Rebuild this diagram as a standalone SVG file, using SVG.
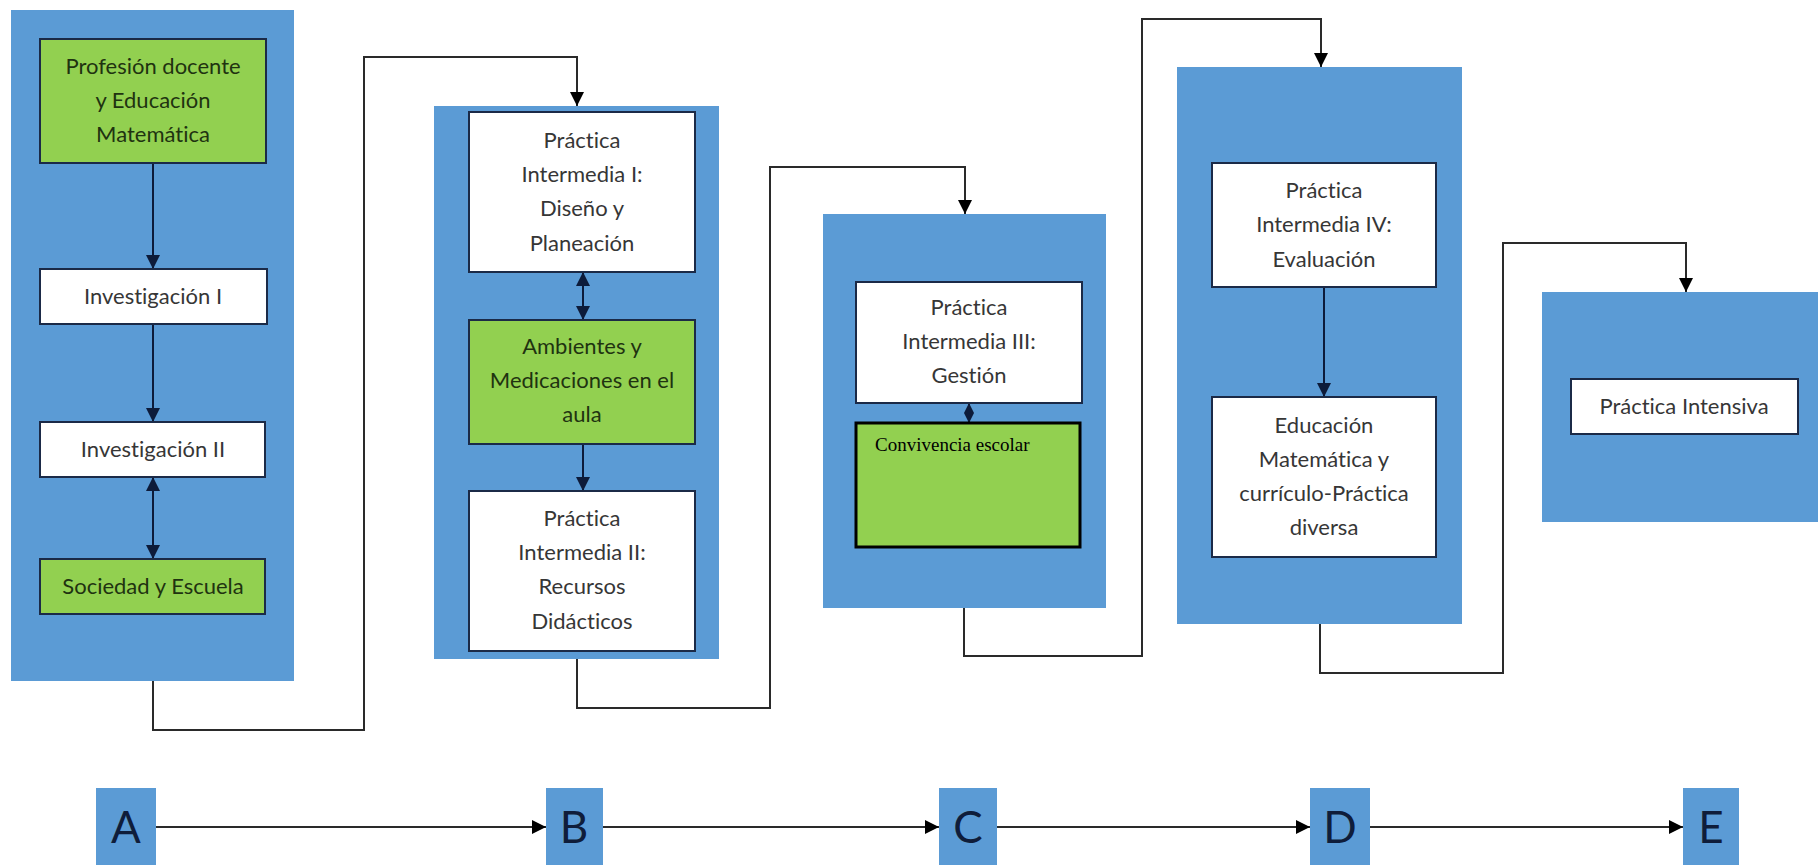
<svg xmlns="http://www.w3.org/2000/svg" width="1818" height="865" viewBox="0 0 1818 865">
<style>
.bg{fill:#5b9bd5}
.wb{fill:#ffffff;stroke:#1b2a47;stroke-width:2}
.gb{fill:#92d050;stroke:#1b2a47;stroke-width:2}
text{font-variant-ligatures:none}
.t{font-family:Lato,"Liberation Sans",sans-serif;font-size:22px;text-anchor:middle;fill:#363636}
.tg{font-family:Lato,"Liberation Sans",sans-serif;font-size:22px;text-anchor:middle;fill:#1f3310}
.L{font-family:Lato,"Liberation Sans",sans-serif;font-size:44px;text-anchor:middle;fill:#0f1d3a}
.c{fill:none;stroke:#2a2a2a;stroke-width:2}
.ci{fill:none;stroke:#0d1b3a;stroke-width:2}
</style>
<defs>
<marker id="ah" viewBox="0 0 14 14" markerWidth="14" markerHeight="14" refX="14" refY="7" orient="auto-start-reverse" markerUnits="userSpaceOnUse"><path d="M0,0 L14,7 L0,14 z" fill="#0d1b3a"/></marker>
<marker id="ak" viewBox="0 0 14 14" markerWidth="14" markerHeight="14" refX="14" refY="7" orient="auto-start-reverse" markerUnits="userSpaceOnUse"><path d="M0,0 L14,7 L0,14 z" fill="#000"/></marker>
<marker id="as" viewBox="0 0 10 10" markerWidth="10" markerHeight="10" refX="10" refY="5" orient="auto-start-reverse" markerUnits="userSpaceOnUse"><path d="M0,0 L10,5 L0,10 z" fill="#0d1b3a"/></marker>
</defs>

<g id="stageA"><rect class="bg" x="11" y="10" width="283" height="671"/></g>
<g id="stageB"><rect class="bg" x="434" y="106" width="285" height="553"/></g>
<g id="stageC"><rect class="bg" x="823" y="214" width="283" height="394"/></g>
<g id="stageD"><rect class="bg" x="1177" y="67" width="285" height="557"/></g>
<g id="stageE"><rect class="bg" x="1542" y="292" width="276" height="230"/></g>

<g id="connectors">
<path class="c" d="M153,681 V730 H364 V57 H577 V106" marker-end="url(#ak)"/>
<path class="c" d="M577,659 V708 H770 V167 H965 V214" marker-end="url(#ak)"/>
<path class="c" d="M964,608 V656 H1142 V19 H1321 V67" marker-end="url(#ak)"/>
<path class="c" d="M1320,624 V673 H1503 V243 H1686 V292" marker-end="url(#ak)"/>
<path class="ci" d="M153,163 V269" marker-end="url(#ah)"/>
<path class="ci" d="M153,324 V422" marker-end="url(#ah)"/>
<path class="ci" d="M153,477 V559" marker-start="url(#ah)" marker-end="url(#ah)"/>
<path class="ci" d="M583,272 V320" marker-start="url(#ah)" marker-end="url(#ah)"/>
<path class="ci" d="M583,444 V491" marker-end="url(#ah)"/>
<path class="ci" d="M969,403 V423" marker-start="url(#as)" marker-end="url(#as)"/>
<path class="ci" d="M1324,287 V397" marker-end="url(#ah)"/>
<path class="c" d="M156,827 H546" marker-end="url(#ak)"/>
<path class="c" d="M603,827 H939" marker-end="url(#ak)"/>
<path class="c" d="M997,827 H1310" marker-end="url(#ak)"/>
<path class="c" d="M1370,827 H1683" marker-end="url(#ak)"/>
</g>

<g id="n-profesion"><rect class="gb" x="40" y="39" width="226" height="124"/>
<text class="tg"><tspan x="153" y="74">Profesión docente</tspan><tspan x="153" y="108">y Educación</tspan><tspan x="153" y="142">Matemática</tspan></text></g>
<g id="n-inv1"><rect class="wb" x="40" y="269" width="227" height="55"/>
<text class="t" x="153" y="304">Investigación I</text></g>
<g id="n-inv2"><rect class="wb" x="40" y="422" width="225" height="55"/>
<text class="t" x="153" y="457">Investigación II</text></g>
<g id="n-sociedad"><rect class="gb" x="40" y="559" width="225" height="55"/>
<text class="tg" x="153" y="594">Sociedad y Escuela</text></g>

<g id="n-pi1"><rect class="wb" x="469" y="112" width="226" height="160"/>
<text class="t"><tspan x="582" y="148">Práctica</tspan><tspan x="582" y="182">Intermedia I:</tspan><tspan x="582" y="216">Diseño y</tspan><tspan x="582" y="251">Planeación</tspan></text></g>
<g id="n-ambientes"><rect class="gb" x="469" y="320" width="226" height="124"/>
<text class="tg"><tspan x="582" y="354">Ambientes y</tspan><tspan x="582" y="388">Medicaciones en el</tspan><tspan x="582" y="422">aula</tspan></text></g>
<g id="n-pi2"><rect class="wb" x="469" y="491" width="226" height="160"/>
<text class="t"><tspan x="582" y="526">Práctica</tspan><tspan x="582" y="560">Intermedia II:</tspan><tspan x="582" y="594">Recursos</tspan><tspan x="582" y="629">Didácticos</tspan></text></g>

<g id="n-pi3"><rect class="wb" x="856" y="282" width="226" height="121"/>
<text class="t"><tspan x="969" y="315">Práctica</tspan><tspan x="969" y="349">Intermedia III:</tspan><tspan x="969" y="383">Gestión</tspan></text></g>
<g id="n-convivencia"><rect x="856" y="423" width="224" height="124" fill="#92d050" stroke="#000" stroke-width="3"/>
<text x="875" y="451" font-family="'Liberation Serif',serif" font-size="19" fill="#000">Convivencia escolar</text></g>

<g id="n-pi4"><rect class="wb" x="1212" y="163" width="224" height="124"/>
<text class="t"><tspan x="1324" y="198">Práctica</tspan><tspan x="1324" y="232">Intermedia IV:</tspan><tspan x="1324" y="267">Evaluación</tspan></text></g>
<g id="n-educacion"><rect class="wb" x="1212" y="397" width="224" height="160"/>
<text class="t"><tspan x="1324" y="433">Educación</tspan><tspan x="1324" y="467">Matemática y</tspan><tspan x="1324" y="501">currículo-Práctica</tspan><tspan x="1324" y="535">diversa</tspan></text></g>

<g id="n-intensiva"><rect class="wb" x="1571" y="379" width="227" height="55"/>
<text class="t" x="1684" y="414">Práctica Intensiva</text></g>

<g id="L-A"><rect class="bg" x="96" y="788" width="60" height="77"/><text class="L" x="126" y="843">A</text></g>
<g id="L-B"><rect class="bg" x="546" y="788" width="57" height="77"/><text class="L" x="574" y="843">B</text></g>
<g id="L-C"><rect class="bg" x="939" y="788" width="58" height="77"/><text class="L" x="968" y="843">C</text></g>
<g id="L-D"><rect class="bg" x="1310" y="788" width="60" height="77"/><text class="L" x="1340" y="843">D</text></g>
<g id="L-E"><rect class="bg" x="1683" y="788" width="56" height="77"/><text class="L" x="1711" y="843">E</text></g>
</svg>
